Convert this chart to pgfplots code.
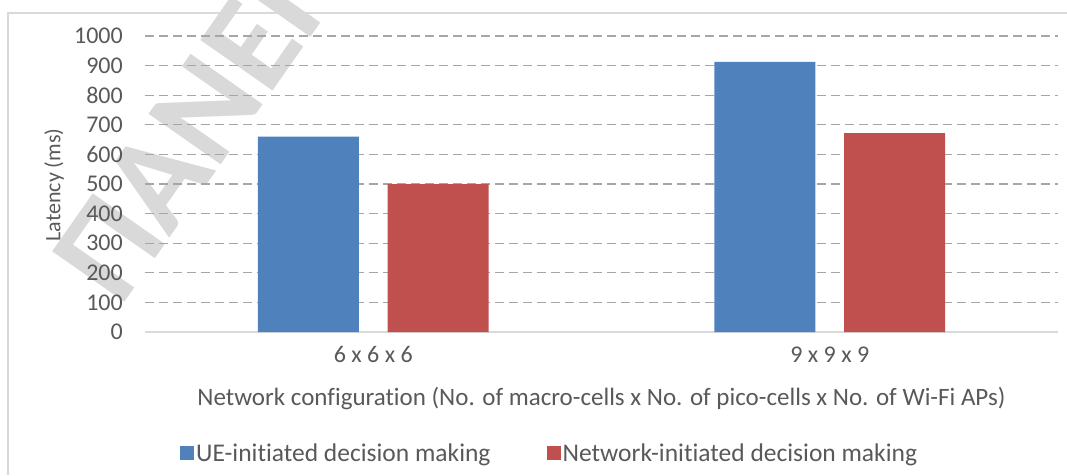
\documentclass[border=0pt]{standalone}
\usepackage{fontspec}
\setmainfont{Carlito}[Ligatures={NoCommon}]
\usepackage{pgfplots}
\pgfplotsset{compat=1.18}
\definecolor{blueb}{HTML}{4F81BD}
\definecolor{redb}{HTML}{C0504D}
\definecolor{txt}{HTML}{595959}
\definecolor{gridc}{HTML}{A6A6A6}
\definecolor{framec}{HTML}{D9D9D9}
\begin{document}
\begin{tikzpicture}[x=1pt,y=1pt]
\useasboundingbox (0,0) rectangle (1067,475);
\begin{scope}
\clip (0,0) rectangle (1067,475);
\node[rotate=55, text=framec, font=\fontsize{136}{136}\selectfont\bfseries, inner sep=0, anchor=base west] at (120,166) {ΠΑΝΕΠΙΣΤΗΜΙΟ};
\end{scope}
\draw[framec, line width=1.5pt] (8,0) -- (8,462) -- (1067,462);
\begin{axis}[
  at={(145pt,143pt)}, anchor=south west,
  scale only axis, width=913pt, height=296pt,
  xmin=-0.5, xmax=1.5, ymin=0, ymax=1000,
  xtick={0,1}, xticklabels={6 x 6 x 6, 9 x 9 x 9},
  ytick={0,100,...,1000},
  extra y ticks={0}, extra y tick labels={},
  extra y tick style={grid style={solid, framec, line width=1.3pt}},
  ymajorgrids,
  grid style={gridc, line width=1.3pt, dash pattern=on 9pt off 5pt},
  axis line style={draw=none},
  major tick length=0pt, tick style={draw=none},
  /pgf/number format/assume math mode=true,
  /pgf/number format/1000 sep={},
  ticklabel style={font=\fontsize{24}{24}\selectfont, text=txt, inner sep=0pt},
  yticklabel style={anchor=east, xshift=-22pt},
  xticklabel style={anchor=north, yshift=-14.5pt},
  xlabel={Network configuration (No. of macro-cells x No. of pico-cells x No. of Wi-Fi APs)},
  every axis x label/.style={at={(axis description cs:0.5,0)}, anchor=base, yshift=-73pt, inner sep=0pt, font=\fontsize{25}{25}\selectfont, text=txt},
  legend columns=2,
  legend style={at={(axis description cs:0.035,-0.409)}, anchor=west, draw=none, fill=none,
    font=\fontsize{25.5}{25.5}\selectfont, text=txt,
    /tikz/every even column/.append style={column sep=54pt}},
]
\addplot[ybar, bar width=0.221, bar shift=-0.142, fill=blueb, draw=none,
  legend image code/.code={\fill[blueb] (0pt,-7pt) rectangle (14pt,7pt);}]
  coordinates {(0,660) (1,913)};
\addplot[ybar, bar width=0.221, bar shift=0.142, fill=redb, draw=none,
  legend image code/.code={\fill[redb] (0pt,-7pt) rectangle (14pt,7pt);}]
  coordinates {(0,500) (1,672)};
\legend{UE-initiated decision making, Network-initiated decision making}
\end{axis}
\node[rotate=90, inner sep=0pt, font=\fontsize{22}{22}\selectfont, text=txt] at (54,290) {Latency (ms)};
\end{tikzpicture}
\end{document}
